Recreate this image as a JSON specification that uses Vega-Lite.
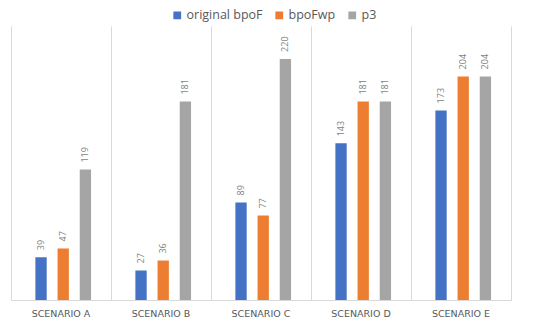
{
  "$schema": "https://vega.github.io/schema/vega-lite/v6.json",
  "width": 500,
  "height": 274,
  "autosize": {"type": "none"},
  "padding": {"left": 11, "top": 26, "right": 39, "bottom": 24},
  "background": "white",
  "view": {"stroke": null},
  "config": {"font": "Open Sans"},
  "data": {
    "values": [
      {"scenario": "SCENARIO A", "series": "original bpoF", "value": 39},
      {"scenario": "SCENARIO A", "series": "bpoFwp", "value": 47},
      {"scenario": "SCENARIO A", "series": "p3", "value": 119},
      {"scenario": "SCENARIO B", "series": "original bpoF", "value": 27},
      {"scenario": "SCENARIO B", "series": "bpoFwp", "value": 36},
      {"scenario": "SCENARIO B", "series": "p3", "value": 181},
      {"scenario": "SCENARIO C", "series": "original bpoF", "value": 89},
      {"scenario": "SCENARIO C", "series": "bpoFwp", "value": 77},
      {"scenario": "SCENARIO C", "series": "p3", "value": 220},
      {"scenario": "SCENARIO D", "series": "original bpoF", "value": 143},
      {"scenario": "SCENARIO D", "series": "bpoFwp", "value": 181},
      {"scenario": "SCENARIO D", "series": "p3", "value": 181},
      {"scenario": "SCENARIO E", "series": "original bpoF", "value": 173},
      {"scenario": "SCENARIO E", "series": "bpoFwp", "value": 204},
      {"scenario": "SCENARIO E", "series": "p3", "value": 204}
    ]
  },
  "encoding": {
    "x": {
      "field": "scenario", "type": "nominal", "title": null,
      "scale": {"paddingInner": 0, "paddingOuter": 0},
      "axis": {
        "grid": true, "bandPosition": 0, "gridColor": "#d9d9d9",
        "domainColor": "#d9d9d9", "ticks": false, "labelAngle": 0,
        "labelColor": "#595959", "labelFontSize": 9.5, "labelPadding": 8,
        "labelFont": "DejaVu Sans"
      }
    },
    "xOffset": {"field": "series", "type": "nominal", "sort": ["original bpoF", "bpoFwp", "p3"], "scale": {"paddingInner": 0.49, "paddingOuter": 1.1, "align": 0.55}},
    "y": {
      "field": "value", "type": "quantitative",
      "scale": {"domain": [0, 250], "nice": false},
      "axis": {"orient": "right", "title": null, "labels": false, "ticks": false, "grid": false, "domainColor": "#d9d9d9"}
    }
  },
  "layer": [
    {
      "mark": {"type": "bar"},
      "encoding": {
        "color": {
          "field": "series", "type": "nominal", "sort": ["original bpoF", "bpoFwp", "p3"],
          "scale": {"domain": ["original bpoF", "bpoFwp", "p3"], "range": ["#4472C4", "#ED7D31", "#A5A5A5"]},
          "legend": {
            "title": null, "orient": "none", "direction": "horizontal",
            "legendX": 160, "legendY": -17, "symbolType": "square", "symbolSize": 60,
            "symbolStrokeWidth": 0, "labelFontSize": 12.5, "labelColor": "#595959",
            "columnPadding": 10, "labelOffset": 3
          }
        }
      }
    },
    {
      "mark": {"type": "text", "angle": 270, "align": "left", "baseline": "middle", "dx": 7, "fontSize": 9, "color": "#7f7f7f"},
      "encoding": {"text": {"field": "value", "type": "quantitative"}}
    }
  ]
}
